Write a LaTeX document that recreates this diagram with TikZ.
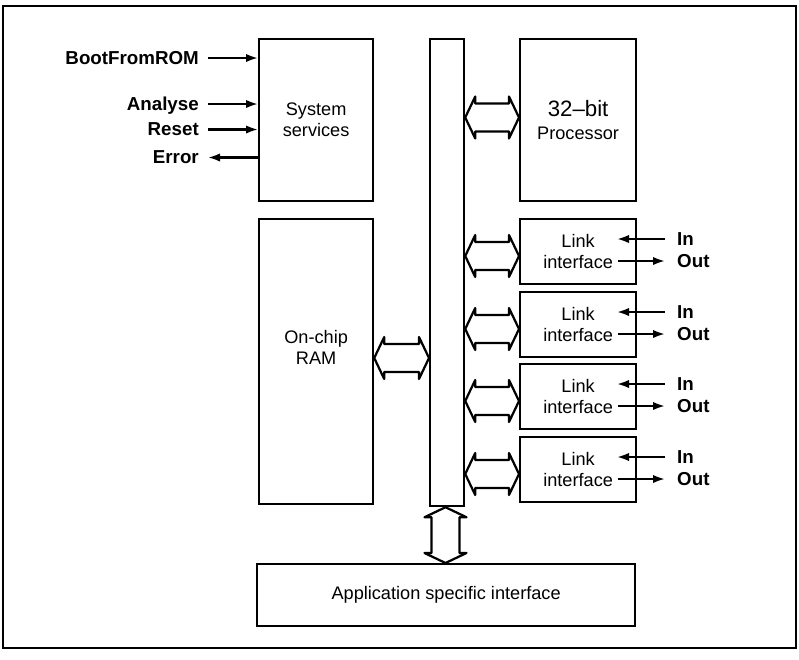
\documentclass[tikz,border=0pt]{standalone}
\usepackage{fontspec}
\setmainfont{Liberation Sans}
\usetikzlibrary{arrows.meta,calc}

\def\px{0.03cm}
\newcommand{\bodyfont}{\fontsize{15.5}{18}\selectfont}
\newcommand{\labfont}{\fontsize{16}{19}\selectfont\bfseries}
% wide hollow double arrow, left to right: #1 left anchor, #2 right anchor, #3 centre y
\newcommand{\hollowh}[3]{%
  \draw[wide] (#1 |- 0,#3) -- ++(10,-21) -- ++(0,7) -- ($(#2 |- 0,#3)+(-10,-14)$) -- ++(0,-7)
    -- (#2 |- 0,#3) -- ++(-10,21) -- ++(0,-7) -- ($(#1 |- 0,#3)+(10,14)$) -- ++(0,7) -- cycle;}
% same, top to bottom: #1 top anchor, #2 bottom anchor, #3 centre x
\newcommand{\hollowv}[3]{%
  \draw[wide] (#1 -| #3,0) -- ++(-21,10) -- ++(7,0) -- ($(#2 -| #3,0)+(-14,-10)$) -- ++(-7,0)
    -- (#2 -| #3,0) -- ++(21,-10) -- ++(-7,0) -- ($(#1 -| #3,0)+(14,10)$) -- ++(7,0) -- cycle;}

\tikzset{
  box/.style={draw, line width=1.9pt, anchor=north west, inner sep=0pt, align=center, font=\bodyfont},
  wide/.style={line width=1.9pt, line join=round},
  sig/.style={line width=1.8pt, -{Latex[length=0.36cm,width=0.25cm]}},
  siglab/.style={font=\labfont, inner xsep=0.27cm, inner ysep=0pt, text depth=0pt},
}

\begin{document}
\begin{tikzpicture}[x=\px, y=-\px]
    \useasboundingbox (0,0) rectangle (799,659);
    \draw[line width=1.8pt] (3,6) rectangle (796,648);

    % --- BLOCKS ---
    \node[box, minimum width=114*\px, minimum height=162*\px] (sys) at (258,38) {System\\services};
    \node[box, minimum width=34*\px, minimum height=467*\px] (bus) at (429,38) {};
    \node[box, minimum width=116*\px, minimum height=162*\px] (cpu) at (519,38)
        {{\fontsize{19}{23}\selectfont 32--bit}\\[1pt]Processor};
    \node[box, minimum width=114*\px, minimum height=285*\px] (ram) at (258,218) {};
    \node[align=center, font=\bodyfont, inner sep=0pt] (ramtxt) at ($(ram.center)+(0,-14)$) {On-chip\\RAM};
    \node[box, minimum width=378*\px, minimum height=62*\px] (app) at (256,563) {Application specific interface};

    % --- SYSTEM SIGNALS ---
    \node[siglab, anchor=east] (boot) at (208,58) {BootFromROM};
    \node[siglab, anchor=east] (anl) at (208,104) {Analyse};
    \node[siglab, anchor=east] (rst) at (208,129.5) {Reset};
    \node[siglab, anchor=east] (err) at (208,157.5) {Error};
    \draw[sig] (boot) -- (sys.west |- boot);
    \draw[sig] (anl) -- (sys.west |- anl);
    \draw[sig] (rst) -- (sys.west |- rst);
    \draw[sig] (sys.west |- err) -- (err);

    % --- BUS CONNECTIONS ---
    \hollowh{bus.east}{cpu.west}{117.5}
    \hollowh{ram.east}{bus.west}{358}
    \hollowv{bus.south}{app.north}{445.5}

    % --- LINKS ---
    \foreach \i/\t in {1/218,2/291,3/363,4/436}{
        \node[box, minimum width=116*\px, minimum height=65*\px] (link\i) at (519,\t) {Link\\interface};
        \pgfmathsetmacro{\yc}{\t+38}
        \hollowh{bus.east}{link\i.west}{\yc}
        \node[siglab, anchor=west, inner xsep=0.36cm] (inlab\i) at (665,\t+21) {In};
        \node[siglab, anchor=west, inner xsep=0.36cm] (outlab\i) at (665,\t+43) {Out};
        \coordinate (rx\i) at (617,\t+21);
        \coordinate (tx\i) at (618,\t+43);
        \draw[sig] (inlab\i) -- (rx\i);
        \draw[sig] (tx\i) -- (outlab\i);
    }
\end{tikzpicture}
\end{document}
